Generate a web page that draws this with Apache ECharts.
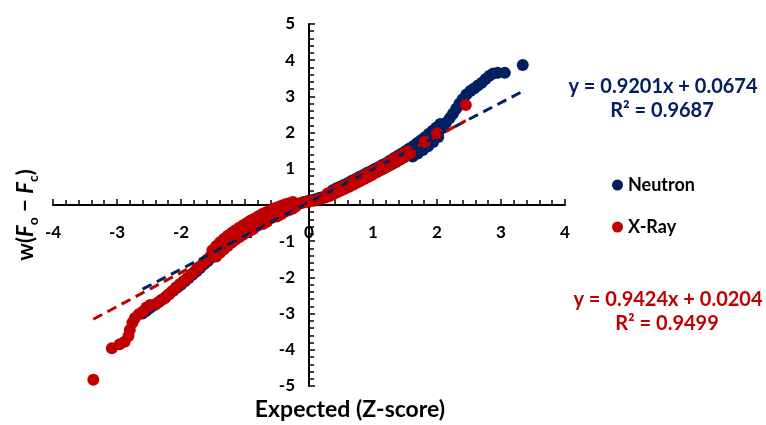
<!DOCTYPE html>
<html>
<head>
<meta charset="utf-8">
<script src="https://cdn.jsdelivr.net/npm/echarts@6/dist/echarts.min.js"></script>
<style>
  html, body { margin: 0; padding: 0; background: #fff; }
  #chart { width: 766px; height: 425px; }
</style>
</head>
<body>
<div id="chart"></div>
<script>
// 数据：正态概率图 (Expected Z-score vs w(Fo - Fc))
var neutronPoints = [
  [-2.60,-3.00],[-2.54,-2.92],[-2.48,-2.84],[-2.42,-2.77],[-2.36,-2.70],[-2.30,-2.62],[-2.24,-2.54],
  [-2.18,-2.46],[-2.12,-2.37],[-2.06,-2.28],[-2.00,-2.20],[-1.94,-2.11],[-1.88,-2.02],[-1.82,-1.93],
  [-1.76,-1.84],[-1.70,-1.74],[-1.64,-1.64],[-1.58,-1.55],[-1.52,-1.45],[-1.46,-1.35],[-1.40,-1.25],
  [-1.34,-1.15],[-1.28,-1.06],[-1.22,-0.98],[-1.16,-0.90],[-1.10,-0.82],[-1.04,-0.75],[-0.98,-0.68],
  [-0.92,-0.61],[-0.86,-0.54],[-0.80,-0.48],[-0.74,-0.42],[-0.68,-0.36],[-0.62,-0.30],[-0.56,-0.25],
  [-0.50,-0.20],[-0.44,-0.15],[-0.38,-0.10],[-0.32,-0.06],[-0.26,-0.02],[-0.20,0.02],[-0.14,0.05],
  [-0.08,0.08],[-0.02,0.11],[0.04,0.13],[0.10,0.16],[0.16,0.19],[0.22,0.22],[0.28,0.26],[0.34,0.30],
  [0.40,0.34],[0.46,0.39],[0.52,0.44],[0.58,0.49],[0.64,0.54],[0.70,0.59],[0.76,0.64],[0.82,0.70],
  [0.88,0.75],[0.94,0.80],[1.00,0.86],[1.06,0.91],[1.12,0.97],[1.18,1.02],[1.24,1.08],[1.30,1.13],
  [1.36,1.19],[1.42,1.25],[1.48,1.31],[1.54,1.38],[1.60,1.44],[1.66,1.52],[1.72,1.60],[1.78,1.68],
  [1.84,1.76],[1.90,1.84],[1.96,1.93],[2.02,2.03],[2.08,2.14],[2.14,2.27],[2.20,2.40],[2.25,2.52],
  [2.30,2.66],[2.35,2.80],[2.40,2.92],[2.46,3.05],[2.52,3.15],[2.58,3.22],[2.64,3.30],[2.70,3.38],
  [2.76,3.48],[2.82,3.57],[2.88,3.63],[2.95,3.65],[3.06,3.65],[3.34,3.87],
  // 带的上沿
  [0.37,0.41],[0.43,0.46],[0.49,0.51],[0.55,0.56],[0.61,0.61],[0.67,0.67],[0.73,0.72],[0.79,0.78],
  [0.85,0.83],[0.91,0.89],[0.97,0.94],[1.03,1.00],[1.09,1.05],[1.15,1.11],[1.21,1.16],[1.27,1.23],
  [1.33,1.30],[1.39,1.36],[1.45,1.42],[1.51,1.49],[1.57,1.56],[1.63,1.63],[1.69,1.71],[1.75,1.79],
  [1.81,1.87],[1.87,1.96],[1.93,2.05],[1.99,2.14],[2.05,2.24],
  // 带的下沿
  [1.62,1.34],[1.70,1.42],[1.78,1.52],[1.86,1.62],[1.94,1.74],[2.02,1.88]
];
var xrayPoints = [
  [-3.37,-4.83],[-3.08,-3.96],[-2.96,-3.85],[-2.88,-3.78],[-2.82,-3.62],[-2.80,-3.45],[-2.76,-3.25],
  [-2.72,-3.12],[-2.66,-3.02],[-2.60,-2.95],[-2.54,-2.83],[-2.48,-2.76],[-2.40,-2.74],[-2.33,-2.66],
  [-2.26,-2.58],[-2.20,-2.48],[-2.14,-2.38],[-2.08,-2.28],[-2.02,-2.19],[-1.96,-2.10],[-1.90,-2.01],
  [-1.84,-1.91],[-1.78,-1.82],[-1.72,-1.72],[-1.66,-1.62],[-1.60,-1.52],[-1.54,-1.42],[-1.48,-1.32],
  [-1.42,-1.22],[-1.36,-1.12],[-1.30,-1.03],[-1.24,-0.95],[-1.18,-0.87],[-1.12,-0.80],[-1.06,-0.73],
  [-1.00,-0.67],[-0.94,-0.60],[-0.88,-0.53],[-0.82,-0.47],[-0.76,-0.41],[-0.70,-0.35],[-0.64,-0.30],
  [-0.58,-0.25],[-0.52,-0.20],[-0.46,-0.15],[-0.40,-0.11],[-0.34,-0.07],[-0.28,-0.03],[-0.22,0.00],
  [-0.16,0.03],[-0.10,0.06],[-0.04,0.08],[0.02,0.10],[0.08,0.12],[0.14,0.15],[0.20,0.18],[0.26,0.21],
  [0.32,0.25],[0.38,0.30],[0.44,0.35],[0.50,0.40],[0.56,0.45],[0.62,0.50],[0.68,0.55],[0.74,0.61],
  [0.80,0.66],[0.86,0.72],[0.92,0.77],[0.98,0.83],[1.04,0.89],[1.10,0.95],[1.16,1.00],[1.22,1.06],
  [1.28,1.12],[1.34,1.18],[1.40,1.24],[1.46,1.30],[1.52,1.36],[1.58,1.43],[1.81,1.75],[2.00,1.98],
  [2.45,2.76],
  // 负侧带的上沿
  [-1.51,-1.25],[-1.45,-1.13],[-1.39,-1.03],[-1.33,-0.94],[-1.27,-0.85],[-1.21,-0.77],[-1.15,-0.70],
  [-1.09,-0.63],[-1.03,-0.56],[-0.97,-0.50],[-0.91,-0.43],[-0.85,-0.37],[-0.79,-0.31],[-0.73,-0.25],
  [-0.67,-0.20],[-0.61,-0.15],[-0.55,-0.10],[-0.49,-0.06],[-0.43,-0.02],[-0.37,0.02],[-0.31,0.05],
  [-0.25,0.08],
  // 负侧带的下沿
  [-1.45,-1.42],[-1.39,-1.32],[-1.33,-1.22],[-1.27,-1.13],[-1.21,-1.04],[-1.15,-0.96],[-1.09,-0.89],
  [-1.03,-0.82],[-0.97,-0.75],[-0.91,-0.68],[-0.85,-0.62],[-0.79,-0.56],[-0.73,-0.50],[-0.67,-0.44],
  [-0.61,-0.38],[-0.55,-0.33],[-0.49,-0.28],[-0.43,-0.23],[-0.37,-0.18],[-0.31,-0.14],[-0.25,-0.10],
  // 正侧带的上沿
  [0.29,0.32],[0.35,0.36],[0.41,0.41],[0.47,0.46],[0.53,0.51],[0.59,0.56],[0.65,0.61],[0.71,0.67],
  [0.77,0.72],[0.83,0.78],[0.89,0.83],[0.95,0.89],[1.01,0.95],[1.07,1.01],[1.13,1.06],[1.19,1.12],
  [1.25,1.18],[1.31,1.24],[1.37,1.30],[1.43,1.36],[1.49,1.42],[1.55,1.48]
];
// 趋势线系数 [斜率, 截距]
var neutronFit = [0.9201, 0.0674];
var xrayFit = [0.9424, 0.0204];
var neutronLabel = ['y = 0.9201x + 0.0674', 'R² = 0.9687'];
var xrayLabel = ['y = 0.9424x + 0.0204', 'R² = 0.9499'];

var BLUE = '#002060';
var RED = '#C00000';
var FONT = 'Lato';

function fitLine(points, fit) {
  var xs = points.map(function (p) { return p[0]; });
  var x0 = Math.min.apply(null, xs), x1 = Math.max.apply(null, xs);
  return [[x0, fit[0] * x0 + fit[1]], [x1, fit[0] * x1 + fit[1]]];
}

var myChart = echarts.init(document.getElementById('chart'), null, { renderer: 'canvas' });

var axisCommon = {
  type: 'value',
  axisLine: { onZero: false, lineStyle: { color: '#000', width: 2 } },
  axisTick: { inside: true, length: 6, lineStyle: { color: '#000', width: 1.5 } },
  minorTick: { show: true, splitNumber: 5, length: 5, lineStyle: { color: '#000', width: 1.5 } },
  splitLine: { show: false },
  axisLabel: { color: '#000', fontFamily: FONT, fontWeight: 'bold', fontSize: 17 }
};

// 坐标轴交于原点：用负 offset 把轴移到 0 处
var option = {
  animation: false,
  backgroundColor: '#fff',
  grid: { left: 53, right: 201, top: 24, bottom: 39 },
  xAxis: Object.assign({}, axisCommon, {
    min: -4, max: 4, interval: 1,
    position: 'bottom', offset: -181,
    axisLabel: Object.assign({}, axisCommon.axisLabel, { margin: 19 })
  }),
  yAxis: Object.assign({}, axisCommon, {
    min: -5, max: 5, interval: 1,
    position: 'left', offset: -256,
    axisLabel: Object.assign({}, axisCommon.axisLabel, { margin: 14 })
  }),
  legend: {
    orient: 'vertical',
    left: 607, top: 171,
    itemWidth: 11, itemHeight: 11, itemGap: 24,
    icon: 'circle',
    data: ['Neutron', 'X-Ray'],
    textStyle: { color: '#000', fontFamily: FONT, fontWeight: 'bold', fontSize: 18 }
  },
  series: [
    {
      name: 'Neutron', type: 'scatter', symbolSize: 12,
      itemStyle: { color: BLUE, opacity: 1 },
      data: neutronPoints, z: 2
    },
    {
      name: 'X-Ray', type: 'scatter', symbolSize: 12,
      itemStyle: { color: RED, opacity: 1 },
      data: xrayPoints, z: 3
    },
    {
      name: 'Neutron fit', type: 'line', symbol: 'none', silent: true,
      lineStyle: { color: BLUE, width: 3, type: [10, 6] },
      data: fitLine(neutronPoints, neutronFit), z: 4
    },
    {
      name: 'X-Ray fit', type: 'line', symbol: 'none', silent: true,
      lineStyle: { color: RED, width: 3, type: [10, 6] },
      data: fitLine(xrayPoints, xrayFit), z: 5
    }
  ],
  graphic: [
    {
      type: 'text', x: 350, y: 410,
      style: {
        text: 'Expected (Z-score)', fill: '#000',
        font: 'bold 23px ' + FONT, align: 'center', verticalAlign: 'middle'
      }
    },
    {
      type: 'text', x: 26, y: 215, rotation: Math.PI / 2,
      style: {
        text: '{a|w(}{f|F}{s|o}{a| − }{f|F}{s|c}{a|)}',
        align: 'center', verticalAlign: 'middle',
        rich: {
          a: { fontFamily: FONT, fontWeight: 'bold', fontSize: 22, lineHeight: 28, fill: '#000' },
          f: { fontFamily: FONT, fontWeight: 'bold', fontStyle: 'italic', fontSize: 22, lineHeight: 28, fill: '#000' },
          s: { fontFamily: FONT, fontWeight: 'bold', fontSize: 14, lineHeight: 14, verticalAlign: 'bottom', fill: '#000' }
        }
      }
    },
    {
      type: 'text', x: 663, y: 87,
      style: { text: neutronLabel[0], fill: BLUE, font: 'bold 20px ' + FONT, align: 'center', verticalAlign: 'middle' }
    },
    {
      type: 'text', x: 662, y: 111,
      style: { text: neutronLabel[1], fill: BLUE, font: 'bold 20px ' + FONT, align: 'center', verticalAlign: 'middle' }
    },
    {
      type: 'text', x: 668, y: 300,
      style: { text: xrayLabel[0], fill: RED, font: 'bold 20px ' + FONT, align: 'center', verticalAlign: 'middle' }
    },
    {
      type: 'text', x: 667, y: 324,
      style: { text: xrayLabel[1], fill: RED, font: 'bold 20px ' + FONT, align: 'center', verticalAlign: 'middle' }
    }
  ]
};

myChart.setOption(option);
</script>
</body>
</html>
